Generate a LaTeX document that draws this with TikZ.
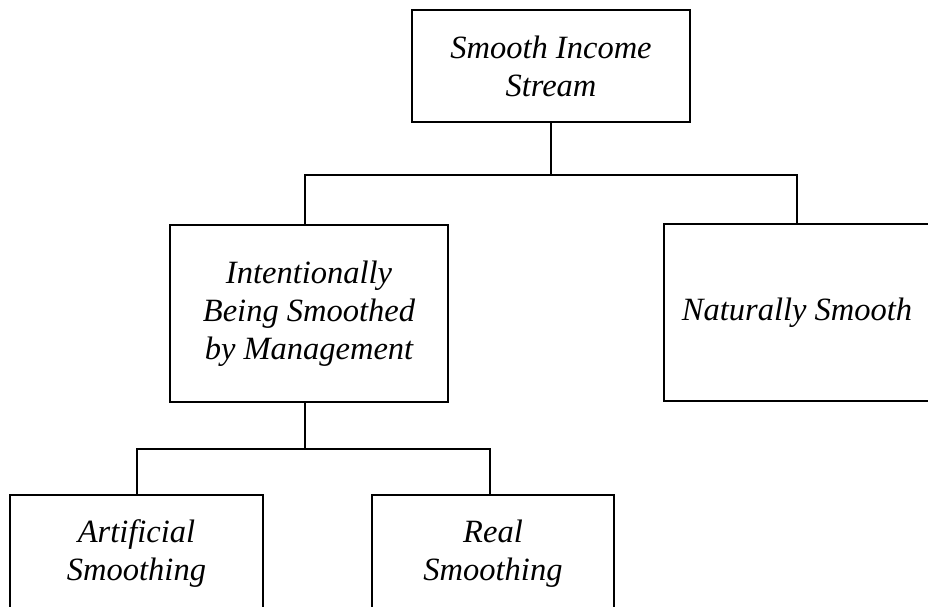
\documentclass[tikz,border=0pt]{standalone}
\usepackage{fontspec}
\setmainfont{Liberation Serif}
\usepackage{tikz}

\begin{document}
\begin{tikzpicture}[x=1pt,y=-1pt,
  box/.style={rectangle,draw=black,line width=2.5pt,align=center,inner sep=0pt,
    font=\fontsize{32.5}{38}\selectfont\itshape},
  link/.style={draw=black,line width=2pt}]
  \clip (0,0) rectangle (928,606);
  \node (top) at (551,66) [box,minimum width=278,minimum height=112] {Smooth Income\\Stream};
  \node (intent) at (309,313.5) [box,minimum width=278,minimum height=177] {Intentionally\\Being Smoothed\\by Management};
  \node (nat) at (797,312.5) [box,minimum width=266,minimum height=177] {Naturally Smooth};
  \node (art) at (136.5,554) [box,minimum width=253,minimum height=118] {Artificial\\Smoothing};
  \node (real) at (493,554) [box,minimum width=242,minimum height=118] {Real\\Smoothing};
  \coordinate (j1) at (551,175);
  \coordinate (j2) at (305,449);
  \draw[link] (top) -- (j1);
  \draw[link] (intent.north -| j2) |- (j1) -| (nat.north);
  \draw[link] (intent.south -| j2) -- (j2);
  \draw[link] (art.north) |- (j2) -| ([xshift=-3]real.north);
\end{tikzpicture}
\end{document}
